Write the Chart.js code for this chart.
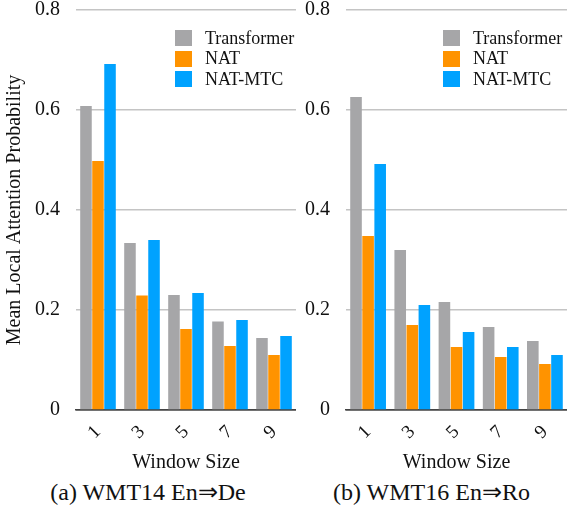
<!DOCTYPE html>
<html>
<head>
<meta charset="utf-8">
<script src="https://cdn.jsdelivr.net/npm/chart.js@4.4.0/dist/chart.umd.min.js"></script>
<style>
  body { margin: 0; background: #fff; font-family: "Liberation Serif", serif; }
  #wrap { position: relative; width: 567px; height: 512px; overflow: hidden; }
  .panel { position: absolute; top: -18px; height: 493px; }
  .caption { position: absolute; top: 478px; font-size: 24px; color: #111; text-align: center; white-space: nowrap; }
  .legend { position: absolute; font-size: 18px; color: #111; }
  .legend div { display: flex; align-items: center; height: 20.5px; }
  .legend span.box { display: inline-block; width: 17px; height: 16px; margin-right: 13px; }
</style>
</head>
<body>
<div id="wrap">
  <div class="panel" style="left:0;width:296px"><canvas id="chartA"></canvas></div>
  <div class="panel" style="left:296px;width:271px"><canvas id="chartB"></canvas></div>
  <div class="legend" id="legendA" style="left:175px;top:28px"></div>
  <div class="legend" id="legendB" style="left:443px;top:28px"></div>
  <div class="caption" style="left:0;width:296px">(a) WMT14 En⇒De</div>
  <div class="caption" style="left:296px;width:271px">(b) WMT16 En⇒Ro</div>
</div>
<script>
// values
const windowSizes = ['1', '3', '5', '7', '9'];
const seriesNames = ['Transformer', 'NAT', 'NAT-MTC'];
const seriesColors = ['#a6a6a8', '#ff9300', '#00a2ff'];

const deTransformer = [0.608, 0.334, 0.230, 0.177, 0.144];
const deNat = [0.498, 0.229, 0.162, 0.128, 0.110];
const deNatMtc = [0.692, 0.340, 0.234, 0.180, 0.148];

const roTransformer = [0.626, 0.320, 0.216, 0.166, 0.138];
const roNat = [0.348, 0.170, 0.126, 0.106, 0.092];
const roNatMtc = [0.492, 0.210, 0.156, 0.126, 0.110];

const yMin = 0, yMax = 0.8, yStep = 0.2;

const serif = 'Liberation Serif';

function buildLegend(id) {
  const el = document.getElementById(id);
  el.innerHTML = seriesNames.map((n, i) =>
    `<div><span class="box" style="background:${seriesColors[i]}"></span>${n}</div>`).join('');
}

function makeChart(canvasId, values, showTitle, yWidth) {
  return new Chart(document.getElementById(canvasId), {
    type: 'bar',
    data: {
      labels: windowSizes,
      datasets: values.map((v, i) => ({
        label: seriesNames[i],
        data: v,
        backgroundColor: seriesColors[i],
        borderWidth: 0,
        categoryPercentage: 0.82,
        barPercentage: 0.96
      }))
    },
    options: {
      responsive: true,
      maintainAspectRatio: false,
      animation: false,
      layout: { padding: { top: 0, right: 0, bottom: 0, left: 0 } },
      plugins: { legend: { display: false }, tooltip: { enabled: false } },
      scales: {
        x: {
          grid: { display: false },
          border: { display: true, color: '#444', width: 1.5 },
          ticks: {
            color: '#111', font: { family: serif, size: 19 },
            minRotation: 45, maxRotation: 45, padding: 3
          },
          title: {
            display: true, text: 'Window Size', color: '#111',
            font: { family: serif, size: 20 }, padding: { top: 0, bottom: 0 }
          },
          afterFit: s => { s.height = 65; }
        },
        y: {
          min: yMin, max: yMax,
          grid: {
            drawTicks: false,
            color: ctx => ctx.tick.value === 0 ? '#444' : '#c4c4c4',
            lineWidth: 1.5
          },
          border: { display: false },
          ticks: {
            stepSize: yStep, color: '#111', padding: 16,
            font: { family: serif, size: 20 }
          },
          title: {
            display: showTitle, text: 'Mean Local Attention Probability', color: '#111',
            font: { family: serif, size: 20 }, padding: { top: 3, bottom: 0 }
          },
          afterFit: s => { s.width = yWidth; }
        }
      }
    }
  });
}

buildLegend('legendA');
buildLegend('legendB');
makeChart('chartA', [deTransformer, deNat, deNatMtc], true, 76);
makeChart('chartB', [roTransformer, roNat, roNatMtc], false, 50);
</script>
</body>
</html>
